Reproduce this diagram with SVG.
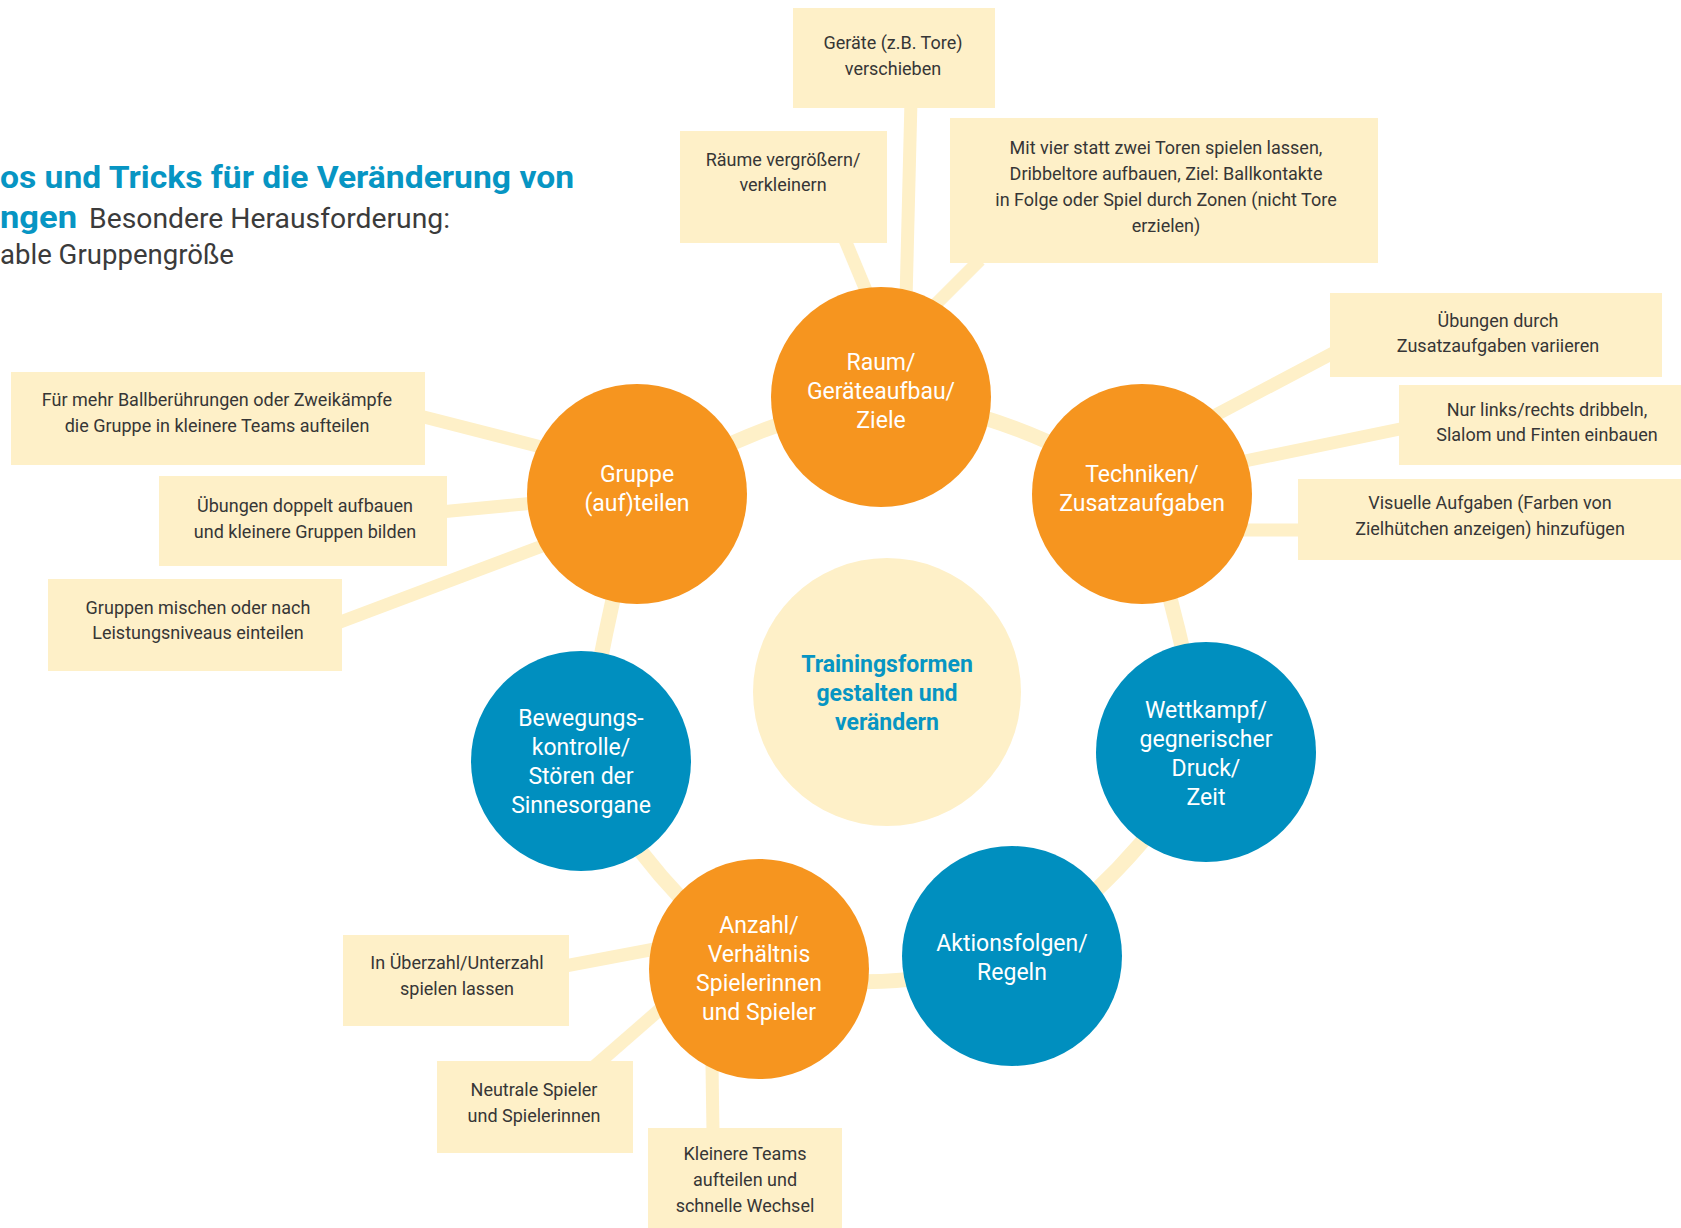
<svg xmlns="http://www.w3.org/2000/svg" width="1681" height="1228" viewBox="0 0 1681 1228">
<style>
.box{fill:#fef0c8}
.lk{stroke:#fef0c8;stroke-width:13;fill:none;stroke-linecap:butt}
.ring{stroke:#fef0c8;stroke-width:15;fill:none}
.or{fill:#f6951f}
.bl{fill:#008fbf}
.ctr{fill:#fef0c8}
.nt{font-family:Roboto,"Liberation Sans",sans-serif;font-size:23px;fill:#ffffff;text-anchor:middle}
.lt{font-family:Roboto,"Liberation Sans",sans-serif;font-size:18px;fill:#363636;text-anchor:middle}
.ct{font-family:Roboto,"Liberation Sans",sans-serif;font-size:23px;font-weight:bold;fill:#0795c3;text-anchor:middle}
.tb{font-family:Roboto,"Liberation Sans",sans-serif;font-size:32px;font-weight:bold;fill:#0795c3}
.tr{font-family:Roboto,"Liberation Sans",sans-serif;font-size:27px;fill:#3b3b3b}
</style>
<g id="title">
<text class="tb" x="0" y="188" textLength="574" lengthAdjust="spacingAndGlyphs">os und Tricks für die Veränderung von</text>
<text class="tb" x="0" y="228" textLength="77" lengthAdjust="spacingAndGlyphs">ngen</text>
<text class="tr" x="89" y="228" textLength="361" lengthAdjust="spacingAndGlyphs">Besondere Herausforderung:</text>
<text class="tr" x="0" y="264" textLength="234" lengthAdjust="spacingAndGlyphs">able Gruppengröße</text>
</g>
<g id="connectors">
<path class="ring" d="M881,397 Q1015,410 1142,494"/>
<path class="ring" d="M1142,494 Q1178,620 1206,752"/>
<path class="ring" d="M1206,752 Q1130,880 1012,956"/>
<path class="ring" d="M1012,956 Q885,1000 759,969"/>
<path class="ring" d="M759,969 Q650,885 581,761"/>
<path class="ring" d="M581,761 Q605,627 637,494"/>
<path class="ring" d="M637,494 Q755,420 881,397"/>
<line class="lk" x1="911" y1="100" x2="906" y2="300"/>
<line class="lk" x1="845" y1="240" x2="870" y2="300"/>
<line class="lk" x1="980" y1="260" x2="930" y2="310"/>
<line class="lk" x1="1335" y1="352" x2="1210" y2="418"/>
<line class="lk" x1="1405" y1="428" x2="1240" y2="462"/>
<line class="lk" x1="1305" y1="530" x2="1240" y2="530"/>
<line class="lk" x1="420" y1="416" x2="545" y2="448"/>
<line class="lk" x1="440" y1="512" x2="535" y2="503"/>
<line class="lk" x1="335" y1="624" x2="545" y2="545"/>
<line class="lk" x1="565" y1="966" x2="655" y2="949"/>
<line class="lk" x1="595" y1="1066" x2="665" y2="1005"/>
<line class="lk" x1="713" y1="1132" x2="712" y2="1065"/>
</g>
<g id="box-geraete"><rect class="box" x="793" y="8" width="202" height="100"/>
<text class="lt" x="893" y="49">Geräte (z.B. Tore)</text><text class="lt" x="893" y="75">verschieben</text></g>
<g id="box-raeume"><rect class="box" x="680" y="131" width="207" height="112"/>
<text class="lt" x="783" y="166">Räume vergrößern/</text><text class="lt" x="783" y="191">verkleinern</text></g>
<g id="box-mitvier"><rect class="box" x="950" y="118" width="428" height="145"/>
<text class="lt" x="1166" y="154">Mit vier statt zwei Toren spielen lassen,</text>
<text class="lt" x="1166" y="180">Dribbeltore aufbauen, Ziel: Ballkontakte</text>
<text class="lt" x="1166" y="206">in Folge oder Spiel durch Zonen (nicht Tore</text>
<text class="lt" x="1166" y="232">erzielen)</text></g>
<g id="box-uebungen-durch"><rect class="box" x="1330" y="293" width="332" height="84"/>
<text class="lt" x="1498" y="327">Übungen durch</text><text class="lt" x="1498" y="352">Zusatzaufgaben variieren</text></g>
<g id="box-nurlinks"><rect class="box" x="1399" y="385" width="282" height="80"/>
<text class="lt" x="1547" y="416">Nur links/rechts dribbeln,</text><text class="lt" x="1547" y="441">Slalom und Finten einbauen</text></g>
<g id="box-visuelle"><rect class="box" x="1298" y="479" width="383" height="81"/>
<text class="lt" x="1490" y="509">Visuelle Aufgaben (Farben von</text><text class="lt" x="1490" y="535">Zielhütchen anzeigen) hinzufügen</text></g>
<g id="box-fuermehr"><rect class="box" x="11" y="372" width="414" height="93"/>
<text class="lt" x="217" y="406">Für mehr Ballberührungen oder Zweikämpfe</text><text class="lt" x="217" y="432">die Gruppe in kleinere Teams aufteilen</text></g>
<g id="box-doppelt"><rect class="box" x="159" y="476" width="288" height="90"/>
<text class="lt" x="305" y="512">Übungen doppelt aufbauen</text><text class="lt" x="305" y="538">und kleinere Gruppen bilden</text></g>
<g id="box-mischen"><rect class="box" x="48" y="579" width="294" height="92"/>
<text class="lt" x="198" y="614">Gruppen mischen oder nach</text><text class="lt" x="198" y="639">Leistungsniveaus einteilen</text></g>
<g id="box-ueberzahl"><rect class="box" x="343" y="935" width="226" height="91"/>
<text class="lt" x="457" y="969">In Überzahl/Unterzahl</text><text class="lt" x="457" y="995">spielen lassen</text></g>
<g id="box-neutrale"><rect class="box" x="437" y="1061" width="196" height="92"/>
<text class="lt" x="534" y="1096">Neutrale Spieler</text><text class="lt" x="534" y="1122">und Spielerinnen</text></g>
<g id="box-kleinere"><rect class="box" x="648" y="1128" width="194" height="100"/>
<text class="lt" x="745" y="1160">Kleinere Teams</text><text class="lt" x="745" y="1186">aufteilen und</text><text class="lt" x="745" y="1212">schnelle Wechsel</text></g>
<g id="node-center"><circle class="ctr" cx="887" cy="692" r="134"/>
<text class="ct" x="887" y="672">Trainingsformen</text><text class="ct" x="887" y="701">gestalten und</text><text class="ct" x="887" y="730">verändern</text></g>
<g id="node-raum"><circle class="or" cx="881" cy="397" r="110"/>
<text class="nt" x="881" y="370">Raum/</text><text class="nt" x="881" y="399">Geräteaufbau/</text><text class="nt" x="881" y="428">Ziele</text></g>
<g id="node-gruppe"><circle class="or" cx="637" cy="494" r="110"/>
<text class="nt" x="637" y="482">Gruppe</text><text class="nt" x="637" y="511">(auf)teilen</text></g>
<g id="node-techniken"><circle class="or" cx="1142" cy="494" r="110"/>
<text class="nt" x="1142" y="482">Techniken/</text><text class="nt" x="1142" y="511">Zusatzaufgaben</text></g>
<g id="node-bewegung"><circle class="bl" cx="581" cy="761" r="110"/>
<text class="nt" x="581" y="726">Bewegungs-</text><text class="nt" x="581" y="755">kontrolle/</text><text class="nt" x="581" y="784">Stören der</text><text class="nt" x="581" y="813">Sinnesorgane</text></g>
<g id="node-wettkampf"><circle class="bl" cx="1206" cy="752" r="110"/>
<text class="nt" x="1206" y="718">Wettkampf/</text><text class="nt" x="1206" y="747">gegnerischer</text><text class="nt" x="1206" y="776">Druck/</text><text class="nt" x="1206" y="805">Zeit</text></g>
<g id="node-anzahl"><circle class="or" cx="759" cy="969" r="110"/>
<text class="nt" x="759" y="933">Anzahl/</text><text class="nt" x="759" y="962">Verhältnis</text><text class="nt" x="759" y="991">Spielerinnen</text><text class="nt" x="759" y="1020">und Spieler</text></g>
<g id="node-aktionsfolgen"><circle class="bl" cx="1012" cy="956" r="110"/>
<text class="nt" x="1012" y="951">Aktionsfolgen/</text><text class="nt" x="1012" y="980">Regeln</text></g>
</svg>
